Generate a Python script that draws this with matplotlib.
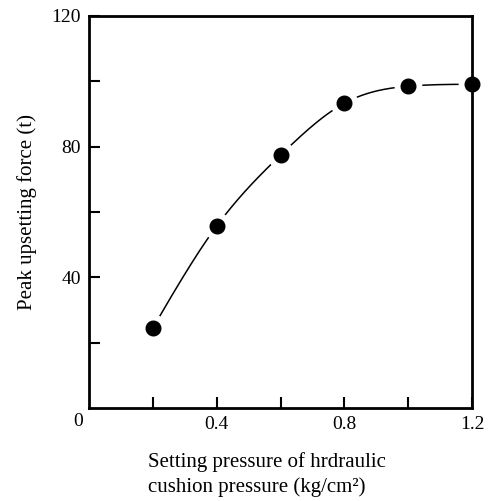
import numpy as np
import matplotlib
matplotlib.use("Agg")
import matplotlib.pyplot as plt

pressure = [0.2, 0.4, 0.6, 0.8, 1.0, 1.2]
force = [24.5, 55.7, 77.4, 93.3, 98.5, 99.1]

plt.rcParams['font.family'] = ['Liberation Serif', 'DejaVu Serif']

def natural_spline(x, y, xs):
    x = np.asarray(x, float); y = np.asarray(y, float)
    n = len(x)
    h = np.diff(x)
    A = np.zeros((n, n)); b = np.zeros(n)
    A[0, 0] = 1; A[-1, -1] = 1
    for i in range(1, n - 1):
        A[i, i - 1] = h[i - 1]
        A[i, i] = 2 * (h[i - 1] + h[i])
        A[i, i + 1] = h[i]
        b[i] = 3 * ((y[i + 1] - y[i]) / h[i] - (y[i] - y[i - 1]) / h[i - 1])
    c = np.linalg.solve(A, b)
    out = np.empty_like(xs)
    for j, xv in enumerate(xs):
        i = min(max(np.searchsorted(x, xv) - 1, 0), n - 2)
        dx = xv - x[i]
        bi = (y[i + 1] - y[i]) / h[i] - h[i] * (2 * c[i] + c[i + 1]) / 3
        di = (c[i + 1] - c[i]) / (3 * h[i])
        out[j] = y[i] + bi * dx + c[i] * dx ** 2 + di * dx ** 3
    return out

fig = plt.figure(figsize=(4.88, 5.01), dpi=100)
ax = fig.add_axes([89/488, 1 - 408/501, (472-89)/488, (408-16)/501])

xs = np.linspace(pressure[0], pressure[-1], 300)
ax.plot(xs, natural_spline(pressure, force, xs), color='black', lw=1.1, zorder=2, clip_on=False)
ax.plot(pressure, force, 'o', ms=19, color='white', mec='white', zorder=3, clip_on=False)
ax.plot(pressure, force, 'o', ms=10.5, color='black', zorder=5, clip_on=False)

ax.set_xlim(0, 1.2)
ax.set_ylim(0, 120)
ax.set_xticks([0.4, 0.8, 1.2])
ax.set_xticklabels(['0.4', '0.8', '1.2'])
ax.set_xticks([0.2, 0.6, 1.0], minor=True)
ax.set_yticks([40, 80, 120])
ax.set_yticks([20, 60, 100], minor=True)
ax.tick_params(which='both', direction='in', length=8, width=1.5, labelsize=14, pad=6)
for s in ax.spines.values():
    s.set_linewidth(2.0)
    s.set_zorder(4)

fig.text(78/488, 1 - 422/501, '0', fontsize=14, ha='center', va='center')
ax.set_ylabel('Peak upsetting force (t)', fontsize=15, labelpad=10)
fig.text(148/488, 1 - 462/501, 'Setting pressure of hrdraulic', fontsize=15, ha='left', va='center')
fig.text(148/488, 1 - 487/501, 'cushion pressure (kg/cm\u00b2)', fontsize=15, ha='left', va='center')

fig.savefig('out.png', dpi=100)
